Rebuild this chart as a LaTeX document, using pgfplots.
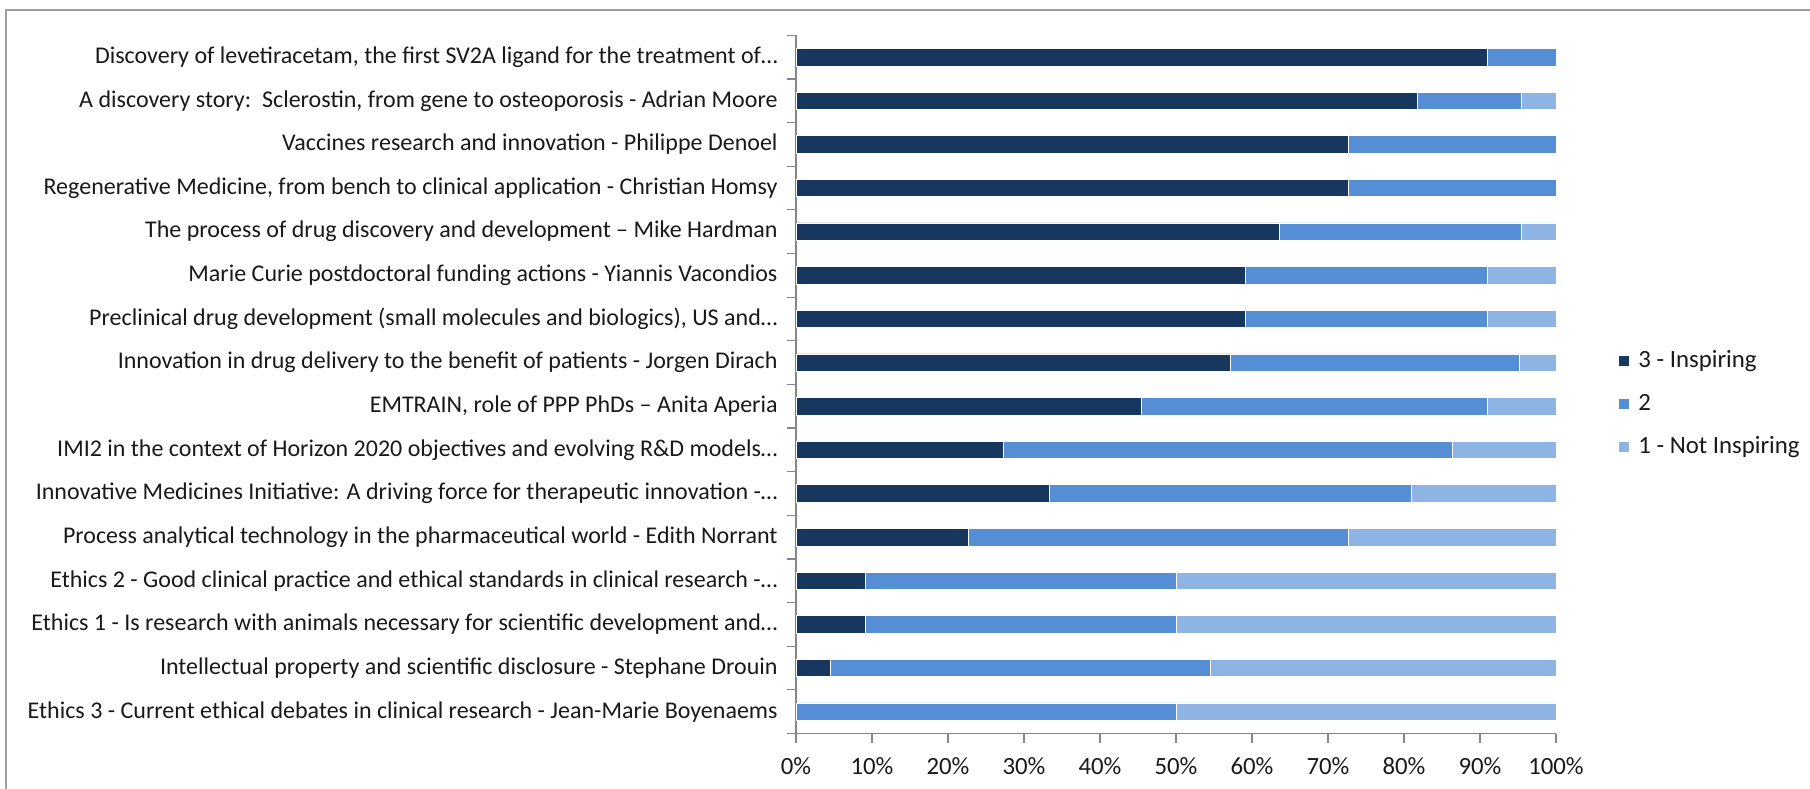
\documentclass[border=0pt]{standalone}
\usepackage{fontspec}
\setmainfont{Carlito}
\usepackage{pgfplots}
\pgfplotsset{compat=1.18}
\usepackage{pgfplotstable}
\definecolor{cDark}{RGB}{23,55,94}
\definecolor{cMed}{RGB}{85,142,213}
\definecolor{cLight}{RGB}{142,180,227}
\definecolor{axgray}{RGB}{134,134,134}
\pgfplotstableread{
y v3 v2 v1
15 90.9 9.1 0
14 81.8 13.6 4.6
13 72.7 27.3 0
12 72.7 27.3 0
11 63.6 31.8 4.6
10 59.1 31.8 9.1
9 59.1 31.8 9.1
8 57.1 38.1 4.8
7 45.5 45.5 9.0
6 27.3 59.1 13.6
5 33.3 47.6 19.1
4 22.7 50.0 27.3
3 9.1 40.9 50.0
2 9.1 40.9 50.0
1 4.5 50.0 45.5
0 0 50 50
}\datatable
\begin{document}
\begin{tikzpicture}
\useasboundingbox (-398pt,-27.25pt) rectangle (507pt,366.75pt);
\draw[axgray!80, line width=1.4pt] (-395pt,-40pt) -- (-395pt,361.75pt) -- (520pt,361.75pt);
\begin{axis}[
  at={(0pt,0pt)}, anchor=south west,
  scale only axis, width=380pt, height=349.1pt,
  xbar stacked, bar width=0.4,
  xmin=0, xmax=100, ymin=-0.5, ymax=15.5,
  axis x line*=bottom, axis y line*=left,
  axis line style={axgray, line width=0.6pt},
  tick align=outside,
  xtick={0,10,...,100},
  xticklabel={\pgfmathprintnumber{\tick}\%},
  /pgf/number format/assume math mode=true,
  major tick length=4.5pt, minor tick length=4.5pt,
  tick style={axgray, line width=0.6pt},
  every major y tick/.append style={draw=none},
  ytick={0,...,15},
  minor ytick={-0.5,0.5,...,15.5},
  yticklabels={
    Ethics 3 - Current ethical debates in clinical research - Jean-Marie Boyenaems,
    Intellectual property and scientific disclosure - Stephane Drouin,
    Ethics 1 - Is research with animals necessary for scientific development and…,
    Ethics 2 - Good clinical practice and ethical standards in clinical research -…,
    Process analytical technology in the pharmaceutical world - Edith Norrant,
    Innovative Medicines Initiative: A driving force for therapeutic innovation -…,
    IMI2 in the context of Horizon 2020 objectives and evolving R\&D models…,
    {EMTRAIN, role of PPP PhDs – Anita Aperia},
    Innovation in drug delivery to the benefit of patients - Jorgen Dirach,
    {Preclinical drug development (small molecules and biologics), US and…},
    Marie Curie postdoctoral funding actions - Yiannis Vacondios,
    The process of drug discovery and development – Mike Hardman,
    {Regenerative Medicine, from bench to clinical application - Christian Homsy},
    Vaccines research and innovation - Philippe Denoel,
    {A discovery story:\ \ Sclerostin, from gene to osteoporosis - Adrian Moore},
    {Discovery of levetiracetam, the first SV2A ligand for the treatment of…}
  },
  yticklabel style={font=\fontsize{12}{14}\selectfont, inner sep=0pt, xshift=-4.5pt, text=black!90},
  xticklabel style={font=\fontsize{12.4}{14}\selectfont, inner sep=0pt, yshift=-7.2pt, text=black!90},
  legend style={draw=none, fill=none, at={(1.073,0.4718)}, anchor=west,
    font=\fontsize{12.4}{14}\selectfont, row sep=10.5pt,
    nodes={inner sep=0pt, text height=8.5pt, text depth=2.5pt, anchor=west, text=black!90},
    /tikz/every odd column/.append style={column sep=4.6pt}},
  legend cell align=left,
  legend image code/.code={\fill[#1] (0pt,-2.6pt) rectangle (5.4pt,2.8pt);},
]
\addplot[fill=cDark, draw=white, line width=0.3pt] table[x=v3, y=y] {\datatable};
\addlegendentry{3 - Inspiring}
\addplot[fill=cMed, draw=white, line width=0.3pt] table[x=v2, y=y] {\datatable};
\addlegendentry{2}
\addplot[fill=cLight, draw=white, line width=0.3pt] table[x=v1, y=y] {\datatable};
\addlegendentry{1 - Not Inspiring}
\end{axis}
\end{tikzpicture}
\end{document}
